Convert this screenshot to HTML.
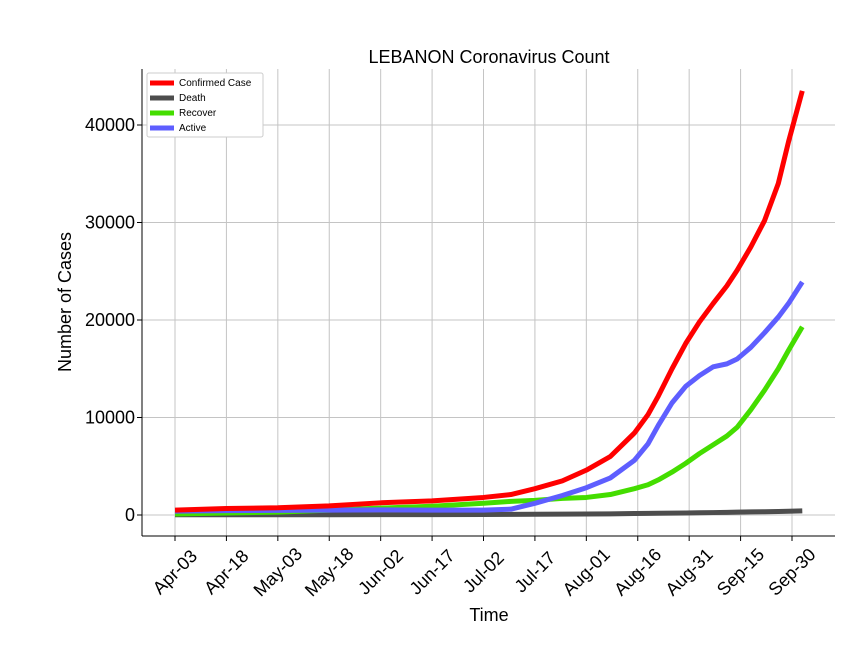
<!DOCTYPE html>
<html><head><meta charset="utf-8"><style>
body{margin:0;background:#fff;}
svg text{font-family:"Liberation Sans","DejaVu Sans",sans-serif;}
</style></head><body>
<svg id="chart" width="864" height="648" xmlns="http://www.w3.org/2000/svg">
<rect width="864" height="648" fill="#fff"/>
<text x="489" y="63" text-anchor="middle" font-size="18">LEBANON Coronavirus Count</text>
<g id="grid"></g><g id="series"></g><g id="axes"></g>
<text x="489" y="621" text-anchor="middle" font-size="18">Time</text>
<text transform="translate(71,302) rotate(-90)" text-anchor="middle" font-size="18">Number of Cases</text>
<g>
<rect x="147" y="73" width="116" height="64" rx="2" fill="#fff" stroke="#ccc"/>
<line x1="150" y1="83" x2="174" y2="83" stroke="#ff0000" stroke-width="5"/><text x="179" y="86" font-size="10">Confirmed Case</text>
<line x1="150" y1="98" x2="174" y2="98" stroke="#4d4d4d" stroke-width="5"/><text x="179" y="101" font-size="10">Death</text>
<line x1="150" y1="113" x2="174" y2="113" stroke="#44dd00" stroke-width="5"/><text x="179" y="116" font-size="10">Recover</text>
<line x1="150" y1="128" x2="174" y2="128" stroke="#5e5eff" stroke-width="5"/><text x="179" y="131" font-size="10">Active</text>
</g>
</svg>
<script>
const days=[0,15,30,45,60,75,90,98,105,113,120,127,134,138,141,145,149,153,157,161,164,168,172,176,179,183];
const confirmed=[500,670,740,930,1250,1450,1800,2100,2700,3500,4600,6000,8400,10300,12200,15000,17600,19800,21700,23500,25100,27500,30200,34000,38300,43500];
const deaths=[20,26,30,32,35,40,50,60,75,90,100,120,150,165,180,190,200,225,250,275,300,315,330,360,380,420];
const recovered=[100,200,300,500,700,900,1200,1400,1500,1700,1800,2100,2700,3100,3600,4400,5300,6300,7200,8100,9000,10800,12800,15000,16900,19300];
const active=[400,450,480,500,520,500,500,600,1200,2000,2800,3800,5600,7300,9200,11500,13200,14300,15200,15500,16000,17200,18700,20300,21700,23900];
const xTickLabels=["Apr-03","Apr-18","May-03","May-18","Jun-02","Jun-17","Jul-02","Jul-17","Aug-01","Aug-16","Aug-31","Sep-15","Sep-30"];
const xTickDays=[0,15,30,45,60,75,90,105,120,135,150,165,180];
const yTicks=[0,10000,20000,30000,40000];
const NS="http://www.w3.org/2000/svg";
const X=d=>175+d*617/180, Y=v=>515-v*390/40000;
const L=142,R=835,T=69,B=536;
const grid=document.getElementById('grid'),ser=document.getElementById('series'),ax=document.getElementById('axes');
function mk(t,a,p){const e=document.createElementNS(NS,t);for(const k in a)e.setAttribute(k,a[k]);p.appendChild(e);return e;}
xTickDays.forEach((d,i)=>{
 const g=mk('line',{x1:X(d),x2:X(d),y1:T,y2:B,stroke:'#c4c4c4','stroke-width':1},grid);
 
 
 mk('line',{x1:X(d),x2:X(d),y1:B,y2:B+5,stroke:'#000'},ax);
 const cx=X(d), cy=B+36;
 const t=mk('text',{x:cx,y:cy+6,'font-size':18,'text-anchor':'middle',transform:`rotate(-45 ${cx} ${cy})`},ax);
 t.textContent=xTickLabels[i];
 
 
});
yTicks.forEach(v=>{
 const g=mk('line',{x1:L,x2:R,y1:Y(v),y2:Y(v),stroke:'#c4c4c4','stroke-width':1},grid);
 
 
 mk('line',{x1:L-5,x2:L,y1:Y(v),y2:Y(v),stroke:'#000'},ax);
 const t=mk('text',{x:L-7,y:Y(v)+6,'font-size':18,'text-anchor':'end'},ax);
 t.textContent=v;
 
 
});
const sp1=mk('line',{x1:L,x2:L,y1:T,y2:B,stroke:'#000'},ax);


const sp2=mk('line',{x1:L,x2:R,y1:B,y2:B,stroke:'#000'},ax);


[[deaths,'#4d4d4d','death-line'],[recovered,'#44dd00','recover-line'],[active,'#5e5eff','active-line'],[confirmed,'#ff0000','confirmed-line']].forEach(([arr,c,n])=>{
 const p=mk('polyline',{points:arr.map((v,i)=>X(days[i])+','+Y(v)).join(' '),fill:'none',stroke:c,'stroke-width':5,'stroke-linejoin':'round'},ser);
 
 
});
</script>
</body></html>
